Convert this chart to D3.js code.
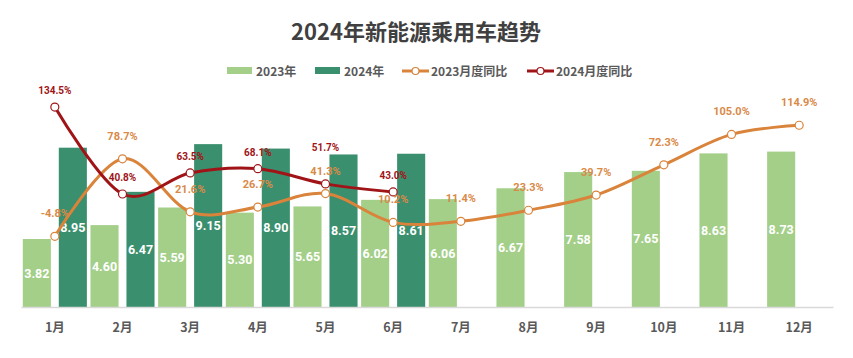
<!DOCTYPE html>
<html><head><meta charset="utf-8">
<script src="https://cdn.jsdelivr.net/npm/d3@7/dist/d3.min.js"></script>
<style>body{margin:0;background:#fff;}svg{display:block;font-family:"Noto Sans CJK SC","Noto Sans",sans-serif;}</style>
</head><body>
<svg id="c" width="853" height="358"></svg>
<script>
const title = "2024年新能源乘用车趋势";
const months = ["1月","2月","3月","4月","5月","6月","7月","8月","9月","10月","11月","12月"];
const sales2023 = [3.82,4.60,5.59,5.30,5.65,6.02,6.06,6.67,7.58,7.65,8.63,8.73];
const sales2024 = [8.95,6.47,9.15,8.90,8.57,8.61];
const yoy2023 = [-4.8,78.7,21.6,26.7,41.3,10.2,11.4,23.3,39.7,72.3,105.0,114.9];
const yoy2024 = [134.5,40.8,63.5,68.1,51.7,43.0];
const seriesNames = ["2023年","2024年","2023月度同比","2024月度同比"];

const C23 = "#a3cf89", C24 = "#3a8f6e", CO = "#d9833b", CR = "#a01418";
const svg = d3.select("#c");

svg.append("text").attr("x",416).attr("y",40).attr("text-anchor","middle")
  .attr("font-size",22).attr("font-weight","bold").attr("fill","#404040").text(title);

const x = d3.scaleBand().domain(months).range([21,833]).paddingInner(0).paddingOuter(0);
const xs = d3.scaleBand().domain(["a","b"]).range([0,x.bandwidth()]).paddingInner(0.22).paddingOuter(0.05);
const y = d3.scaleLinear().domain([0,10]).range([307,129]);
const yp = d3.scaleLinear().domain([-80,160]).range([306.1,83.4]);

// bars
const g = svg.append("g");
g.selectAll(".b23").data(sales2023).join("rect")
  .attr("x",(d,i)=>x(months[i])+xs("a")).attr("width",xs.bandwidth())
  .attr("y",d=>y(d)).attr("height",d=>y(0)-y(d)).attr("fill",C23);
g.selectAll(".b24").data(sales2024).join("rect")
  .attr("x",(d,i)=>x(months[i])+xs("b")).attr("width",xs.bandwidth())
  .attr("y",d=>y(d)).attr("height",d=>y(0)-y(d)).attr("fill",C24);

// bar labels
g.selectAll(".l23").data(sales2023).join("text")
  .attr("x",(d,i)=>x(months[i])+xs("a")+xs.bandwidth()/2)
  .attr("y",d=>(y(d)+y(0))/2+4.5).attr("text-anchor","middle")
  .attr("font-size",12.5).attr("font-weight","bold").attr("fill","#fff").attr("font-family","Roboto,sans-serif")
  .text(d=>d.toFixed(2));
g.selectAll(".l24").data(sales2024).join("text")
  .attr("x",(d,i)=>x(months[i])+xs("b")+xs.bandwidth()/2)
  .attr("y",d=>(y(d)+y(0))/2+4.5).attr("text-anchor","middle")
  .attr("font-size",12.5).attr("font-weight","bold").attr("fill","#fff").attr("font-family","Roboto,sans-serif")
  .text(d=>d.toFixed(2));

// x axis
const ax = svg.append("g").attr("transform","translate(0,307)")
  .call(d3.axisBottom(x).tickSize(0).tickPadding(16));
ax.select(".domain").attr("stroke","#d9d9d9").attr("stroke-width",1.5);
ax.selectAll("text").attr("font-size",12.5).attr("font-weight","bold").attr("fill","#595959")
  .attr("font-family","\"Noto Sans CJK SC\",sans-serif");

// lines
const cx = i => x(months[i]) + x.bandwidth()/2;
const line = d3.line().x((d,i)=>cx(i)).y(d=>yp(d)).curve(d3.curveCatmullRom.alpha(0));
function drawLine(data,color){
  svg.append("path").datum(data).attr("d",line).attr("fill","none")
    .attr("stroke",color).attr("stroke-width",3).attr("stroke-linecap","round");
  svg.append("g").selectAll("circle").data(data).join("circle")
    .attr("cx",(d,i)=>cx(i)).attr("cy",d=>yp(d)).attr("r",4)
    .attr("fill","#fff").attr("stroke",color).attr("stroke-width",1.2);
}
drawLine(yoy2023,CO);
drawLine(yoy2024,CR);

// line labels (orange first, red placed above orange when they collide)
const oBase = yoy2023.map(d=>yp(d)-19);
svg.append("g").selectAll("text").data(yoy2023).join("text")
  .attr("x",(d,i)=>cx(i)).attr("y",(d,i)=>oBase[i]).attr("text-anchor","middle")
  .attr("font-size",11).attr("font-weight","bold").attr("fill","#d98a48")
  .attr("font-family","Roboto,sans-serif").text(d=>d.toFixed(1)+"%");
svg.append("g").selectAll("text").data(yoy2024).join("text")
  .attr("x",(d,i)=>cx(i)).attr("y",(d,i)=>{
      let b = yp(d)-13;
      if (Math.abs(b-oBase[i])<12) b = oBase[i]-24;
      return b;})
  .attr("text-anchor","middle")
  .attr("font-size",10).attr("font-weight","bold").attr("fill",CR)
  .attr("font-family","Roboto,sans-serif").text(d=>d.toFixed(1)+"%");

// legend
const lg = svg.append("g").attr("font-size",12).attr("font-weight","bold").attr("fill","#595959");
const items = [
  {n:seriesNames[0],type:"bar",c:C23,x:227},
  {n:seriesNames[1],type:"bar",c:C24,x:315},
  {n:seriesNames[2],type:"line",c:CO,x:402},
  {n:seriesNames[3],type:"line",c:CR,x:527}
];
items.forEach(it=>{
  if(it.type==="bar"){
    lg.append("rect").attr("x",it.x).attr("y",67).attr("width",25).attr("height",7).attr("fill",it.c);
  } else {
    lg.append("line").attr("x1",it.x).attr("x2",it.x+27).attr("y1",71).attr("y2",71)
      .attr("stroke",it.c).attr("stroke-width",3);
    lg.append("circle").attr("cx",it.x+13.5).attr("cy",71).attr("r",3.5)
      .attr("fill","#fff").attr("stroke",it.c).attr("stroke-width",1.2);
  }
  lg.append("text").attr("x",it.x+29).attr("y",75.5).text(it.n);
});
</script>
</body></html>
